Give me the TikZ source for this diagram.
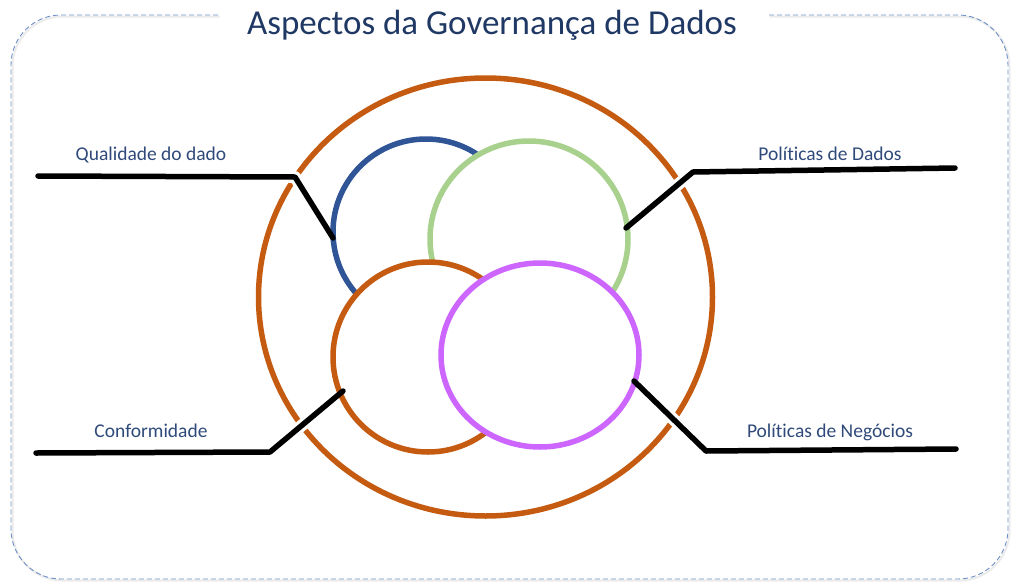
\documentclass[tikz,border=0pt]{standalone}
\usepackage{fontspec}
\setmainfont{Carlito}[Ligatures=NoCommon]
\definecolor{ringorange}{HTML}{C55A11}
\definecolor{ringblue}{HTML}{2F5597}
\definecolor{ringgreen}{HTML}{A9D18E}
\definecolor{ringpurple}{HTML}{CC66FF}
\definecolor{textblue}{HTML}{2F4A7A}
\definecolor{titleblue}{HTML}{1F3864}
\definecolor{borderblue}{HTML}{6F8FC8}
\tikzset{
  ring/.style={line width=5.5pt, fill=white},
  leader/.style={line width=5.5pt, black, line cap=round, line join=round},
  halo/.style={line width=12pt, white, line cap=round, line join=round},
  lbl/.style={text=textblue, font=\fontsize{19.5}{22}\selectfont, anchor=base, inner sep=0pt},
  frame/.style={borderblue, line width=0.9pt, dash pattern=on 5pt off 3pt},
  frameshadow/.style={black!8, line width=2pt},
}
\begin{document}
\begin{tikzpicture}[x=1pt,y=-1pt]
\useasboundingbox (0,0) rectangle (1012,581);
% frame
\begin{scope}[shift={(1.5,1.5)}]
\draw[frameshadow] (218,15) -- (61,15) arc[start angle=90,end angle=180,radius=50pt] -- (11,529) arc[start angle=180,end angle=270,radius=50pt] -- (958,579) arc[start angle=270,end angle=360,radius=50pt] -- (1008,65) arc[start angle=0,end angle=90,radius=50pt] -- (768,15);
\end{scope}
\draw[frame] (218,15) -- (61,15) arc[start angle=90,end angle=180,radius=50pt] -- (11,529) arc[start angle=180,end angle=270,radius=50pt] -- (958,579) arc[start angle=270,end angle=360,radius=50pt] -- (1008,65) arc[start angle=0,end angle=90,radius=50pt] -- (768,15);
% title
\node[text=titleblue, font=\fontsize{35}{38}\selectfont, anchor=base, inner sep=0pt] (title) at (492,34) {Aspectos da Governança de Dados};
% outer ring
\draw[ringorange, line width=5.5pt] (485.5,297) ellipse [x radius=227pt, y radius=219pt];
% leader coordinates
\coordinate (q0) at (38,176);  \coordinate (q1) at (295,177); \coordinate (q2) at (333,238);
\coordinate (d0) at (955,168); \coordinate (d1) at (693,172); \coordinate (d2) at (626,228);
\coordinate (c0) at (36,453);  \coordinate (c1) at (270,452); \coordinate (c2) at (343,391);
\coordinate (n0) at (956,449); \coordinate (n1) at (706,451); \coordinate (n2) at (634,381);
% halos cutting the outer ring
\draw[halo] (q0) -- (q1) -- (q2);
\draw[halo] (d0) -- (d1) -- (d2);
\draw[halo] (c0) -- (c1) -- (c2);
\draw[halo] (n0) -- (n1) -- (n2);
% inner circles
\draw[ring, draw=ringblue] (426,232) ellipse [x radius=93pt, y radius=93pt];
\draw[ring, draw=ringgreen] (529,239) ellipse [x radius=99pt, y radius=98pt];
\draw[ring, draw=ringorange] (428,357) ellipse [x radius=95pt, y radius=95pt];
\draw[ring, draw=ringpurple] (540,355) ellipse [x radius=99pt, y radius=92pt];
% leaders
\draw[leader] (q0) -- (q1) -- (q2);
\draw[leader] (d0) -- (d1) -- (d2);
\draw[leader] (c0) -- (c1) -- (c2);
\draw[leader] (n0) -- (n1) -- (n2);
% labels
\node[lbl] (lq) at (151,160) {Qualidade do dado};
\node[lbl] (ld) at (830,160) {Políticas de Dados};
\node[lbl] (lc) at (151,437) {Conformidade};
\node[lbl] (ln) at (830,437) {Políticas de Negócios};
\end{tikzpicture}
\end{document}
